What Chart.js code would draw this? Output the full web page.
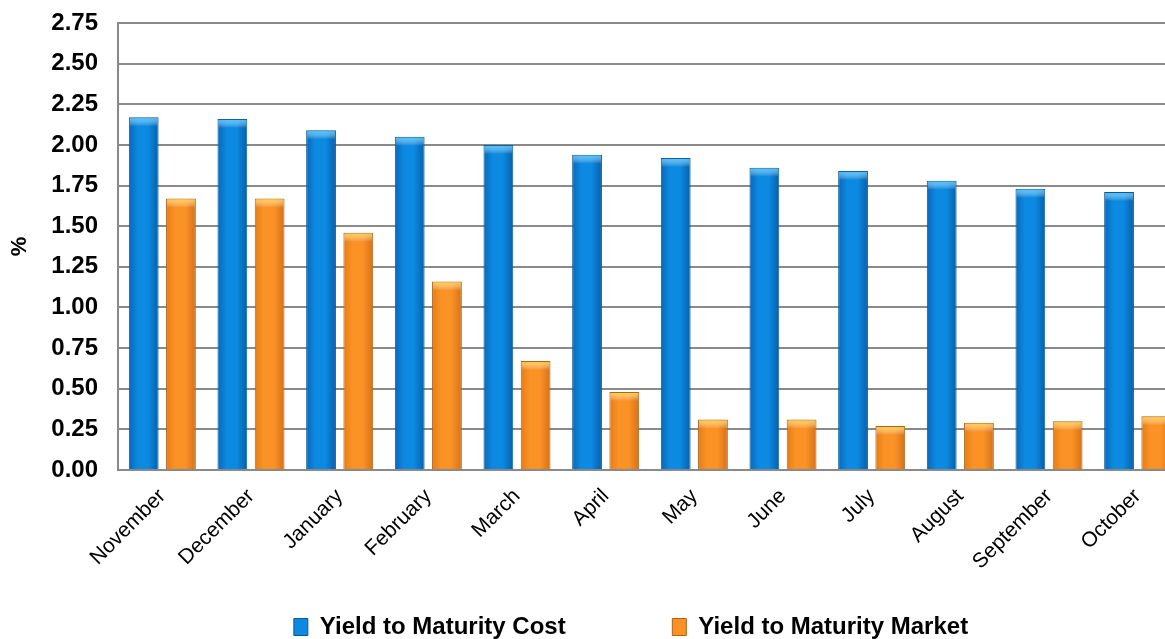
<!DOCTYPE html>
<html>
<head>
<meta charset="utf-8">
<script src="https://cdn.jsdelivr.net/npm/chart.js@4"></script>
<style>
  html, body { margin: 0; padding: 0; background: #fff; overflow: hidden; }
  #wrap { width: 1264px; height: 639px; }
</style>
</head>
<body>
<div id="wrap"><canvas id="myChart" width="1264" height="639"></canvas></div>
<script>
const months = ['November', 'December', 'January', 'February', 'March', 'April', 'May', 'June', 'July', 'August', 'September', 'October']
const costYield = [2.17, 2.16, 2.09, 2.05, 2.00, 1.94, 1.92, 1.86, 1.84, 1.78, 1.73, 1.71]
const marketYield = [1.67, 1.67, 1.46, 1.16, 0.67, 0.48, 0.31, 0.31, 0.27, 0.29, 0.30, 0.33]

// shade each bar left-to-right so it looks like the rounded excel bars
const shadeBars = {
    id: 'shadeBars',
    beforeDatasetsDraw(chart) {
        const c = chart.ctx
        chart.data.datasets.forEach((ds, i) => {
            const meta = chart.getDatasetMeta(i)
            meta.data.forEach(bar => {
                const l = bar.x - bar.width / 2, r = bar.x + bar.width / 2
                const g = c.createLinearGradient(l, 0, r, 0)
                g.addColorStop(0, ds.shade[0])
                g.addColorStop(0.3, ds.shade[1])
                g.addColorStop(0.65, ds.shade[1])
                g.addColorStop(1, ds.shade[2])
                bar.options.backgroundColor = g
            })
        })
    },
    // lighter cap on top of every bar
    afterDatasetsDraw(chart) {
        const c = chart.ctx
        chart.data.datasets.forEach((ds, i) => {
            const meta = chart.getDatasetMeta(i)
            meta.data.forEach(bar => {
                const l = bar.x - bar.width / 2 + 1
                const g = c.createLinearGradient(0, bar.y, 0, bar.y + 9)
                g.addColorStop(0, ds.cap)
                g.addColorStop(1, 'rgba(255,255,255,0)')
                c.save()
                c.fillStyle = g
                c.fillRect(l, bar.y + 1, bar.width - 2, 9)
                c.restore()
            })
        })
    }
}

// the plot runs off the right edge, so nudge the legend back to the visible centre
const moveLegend = {
    id: 'moveLegend',
    afterLayout(chart) {
        const lg = chart.legend
        lg.left += 40
        lg.right += 40
        lg.top += 10
        lg.bottom += 10
    }
}

const ctx = document.getElementById('myChart')
const myChart = new Chart(ctx, {
    type: 'bar',
    data: {
        labels: months,
        datasets: [{
            label: 'Yield to Maturity Cost',
            data: costYield,
            backgroundColor: () => '#0b87de',
            borderColor: '#0a5a96',
            borderWidth: 1,
            shade: ['#0868b8', '#0c89e0', '#065fab'],
            cap: 'rgba(80,200,255,0.9)',
            barPercentage: 0.8,
            categoryPercentage: 0.84,
        },
        {
            label: 'Yield to Maturity Market',
            data: marketYield,
            backgroundColor: () => '#f98f24',
            borderColor: '#b06418',
            borderWidth: 1,
            shade: ['#e57d16', '#fa9226', '#d5711a'],
            cap: 'rgba(255,215,70,0.9)',
            barPercentage: 0.8,
            categoryPercentage: 0.84,
        }],
    },
    options: {
        responsive: false,
        animation: false,
        layout: { padding: { left: 0, right: 82, top: 0, bottom: 0 } },
        plugins: {
            legend: {
                position: 'bottom',
                labels: {
                    color: '#000',
                    font: { family: 'Liberation Sans, Arial', size: 24, weight: 'bold' },
                    boxWidth: 14,
                    boxHeight: 17,
                    padding: 0,
                    generateLabels: chart => {
                        const items = Chart.defaults.plugins.legend.labels.generateLabels(chart)
                        items.forEach((it, i) => {
                            const ds = chart.data.datasets[i]
                            it.fillStyle = ds.shade[1]
                            it.strokeStyle = ds.borderColor
                            it.lineWidth = 1
                        })
                        // wide gap between the two entries
                        items[0].text = items[0].text + ' '.repeat(16)
                        return items
                    }
                }
            },
            tooltip: { enabled: false }
        },
        scales: {
            x: {
                grid: { display: false, drawTicks: false },
                border: { color: '#8a8a8a', width: 2 },
                afterFit: s => { s.height = 135 },
                ticks: {
                    color: '#000',
                    maxRotation: 45,
                    minRotation: 45,
                    padding: 14,
                    font: { family: 'Liberation Sans, Arial', size: 21 }
                }
            },
            y: {
                min: 0,
                max: 2.75,
                afterFit: s => { s.width = 118; s.paddingTop = 23; s.paddingBottom = 0 },
                grid: { color: '#8a8a8a', lineWidth: 2, drawTicks: false },
                border: { color: '#8a8a8a', width: 2 },
                ticks: {
                    stepSize: 0.25,
                    color: '#000',
                    padding: 20,
                    font: { family: 'Liberation Sans, Arial', size: 24, weight: 'bold' },
                    callback: v => v.toFixed(2)
                },
                title: {
                    display: true,
                    text: '%',
                    color: '#000',
                    font: { family: 'Liberation Sans, Arial', size: 22, weight: 'bold' },
                    padding: { top: 7, bottom: 0 }
                }
            }
        }
    },
    plugins: [shadeBars, moveLegend]
})
</script>
</body>
</html>
